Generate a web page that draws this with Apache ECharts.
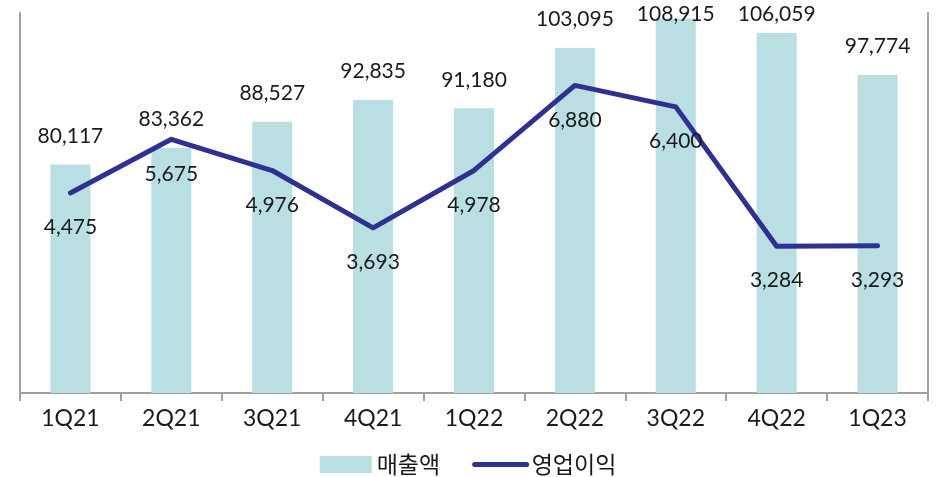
<!DOCTYPE html>
<html>
<head>
<meta charset="utf-8">
<script src="https://cdn.jsdelivr.net/npm/echarts@6/dist/echarts.min.js"></script>
<style>
  html, body { margin: 0; padding: 0; background: #fff; }
  #chart { width: 936px; height: 477px; }
</style>
</head>
<body>
<div id="chart"></div>
<script>
const quarters = ["1Q21", "2Q21", "3Q21", "4Q21", "1Q22", "2Q22", "3Q22", "4Q22", "1Q23"];
const revenue = [80117, 83362, 88527, 92835, 91180, 103095, 108915, 106059, 97774];
const operatingProfit = [4475, 5675, 4976, 3693, 4978, 6880, 6400, 3284, 3293];

const textColor = "#1a1a1a";
const axisColor = "#a0a0a0";
const labelFont = "Lato, 'Noto Sans', sans-serif";
const fmt = (v) => v.toLocaleString("en-US");

const chart = echarts.init(document.getElementById("chart"));

chart.setOption({
  animation: false,
  color: ["#b9dfe2", "#2e3192"],
  grid: { left: 20, right: 8, top: 13, bottom: 84 },
  legend: {
    top: 448,
    left: "center",
    itemWidth: 52,
    itemHeight: 17,
    itemGap: 32,
    textStyle: { color: textColor, fontSize: 23, fontFamily: "'Noto Sans CJK KR', sans-serif" },
    data: [
      { name: "매출액", icon: "rect" },
      { name: "영업이익", itemStyle: { opacity: 0 }, lineStyle: { width: 5, cap: "round" } }
    ]
  },
  xAxis: {
    type: "category",
    data: quarters,
    axisLine: { lineStyle: { color: axisColor, width: 2 } },
    axisTick: { show: true, length: 8, lineStyle: { color: axisColor, width: 2 } },
    axisLabel: { color: textColor, fontSize: 23, margin: 14, fontFamily: labelFont }
  },
  yAxis: [
    {
      type: "value",
      min: 35000,
      max: 110000,
      axisLine: { show: true, lineStyle: { color: axisColor, width: 2 } },
      axisLabel: { show: false },
      axisTick: { show: false },
      splitLine: { show: false }
    },
    {
      type: "value",
      min: 0,
      max: 8500,
      position: "right",
      axisLine: { show: true, lineStyle: { color: axisColor, width: 2 } },
      axisLabel: { show: false },
      axisTick: { show: false },
      splitLine: { show: false }
    }
  ],
  series: [
    {
      name: "매출액",
      type: "bar",
      barWidth: 40,
      data: revenue,
      label: {
        show: true,
        position: "top",
        distance: 18,
        color: textColor,
        fontSize: 21,
        fontFamily: labelFont,
        formatter: (p) => fmt(p.value)
      },
      labelLayout: (p) => (p.labelRect.y < 4 ? { dy: 4 - p.labelRect.y } : {})
    },
    {
      name: "영업이익",
      type: "line",
      yAxisIndex: 1,
      symbol: "circle",
      symbolSize: 0,
      lineStyle: { width: 5, cap: "round", join: "round" },
      data: operatingProfit,
      label: {
        show: true,
        position: "bottom",
        distance: 24,
        color: textColor,
        fontSize: 21,
        fontFamily: labelFont,
        formatter: (p) => fmt(p.value)
      }
    }
  ]
});
</script>
</body>
</html>
